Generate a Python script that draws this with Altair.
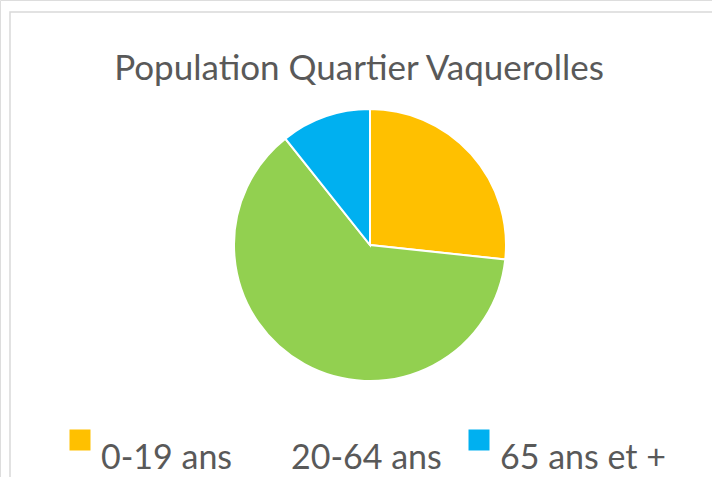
import altair as alt
import pandas as pd

categories = ["0-19 ans", "20-64 ans", "65 ans et +"]
shares = [26.7, 62.6, 10.7]
order_idx = [1, 2, 3]
slice_colors = ["#FFC000", "#92D050", "#00B0F0"]
legend_colors = ["#FFC000", "#FFFFFF", "#00B0F0"]

df = pd.DataFrame({
    "cat": categories,
    "legend_cat": categories,
    "share": shares,
    "idx": order_idx,
})

FONT = "Lato"
TXT = "#595959"
CX, CY, R = 370, 245, 136

base = alt.Chart(df)

border = alt.Chart(alt.Data(values=[{"a": 1}])).mark_rect(
    fill="transparent", stroke="#D9D9D9", strokeWidth=1.5
).encode(
    x=alt.value(10), y=alt.value(12), x2=alt.value(900), y2=alt.value(900)
)

legend_layer = base.mark_arc(outerRadius=R, stroke="white", strokeWidth=2).encode(
    theta=alt.Theta("share:Q", stack=True),
    order=alt.Order("idx:Q"),
    color=alt.Color(
        "legend_cat:N",
        scale=alt.Scale(domain=categories, range=legend_colors),
        legend=alt.Legend(
            title=None,
            orient="none",
            direction="horizontal",
            legendX=63,
            legendY=442,
            padding=0,
            symbolType="M-1,-2.81L1,-2.81L1,-0.81L-1,-0.81Z",
            symbolSize=441,
            symbolStrokeWidth=0,
            labelFont=FONT,
            labelFontSize=34,
            labelColor=TXT,
            labelOffset=4,
            labelLimit=400,
            columnPadding=20,
        ),
    ),
    x=alt.value(CX),
    y=alt.value(CY),
)

pie = base.mark_arc(outerRadius=R, stroke="white", strokeWidth=2).encode(
    theta=alt.Theta("share:Q", stack=True),
    order=alt.Order("idx:Q"),
    color=alt.Color(
        "cat:N",
        scale=alt.Scale(domain=categories, range=slice_colors),
        legend=None,
    ),
    x=alt.value(CX),
    y=alt.value(CY),
)

chart = alt.layer(border, legend_layer, pie).resolve_scale(
    color="independent"
).properties(
    width=712,
    height=477,
    autosize=alt.AutoSizeParams(type="none"),
    padding=0,
    title=alt.TitleParams(
        "Population Quartier Vaquerolles",
        font=FONT,
        fontSize=35,
        fontWeight="normal",
        color=TXT,
        anchor="middle",
        baseline="alphabetic",
        offset=0,
        dy=115,
        dx=3,
    ),
).configure_view(stroke=None).configure(background="white")

chart.save("out.html", embed_options={"renderer": "svg", "actions": False})
